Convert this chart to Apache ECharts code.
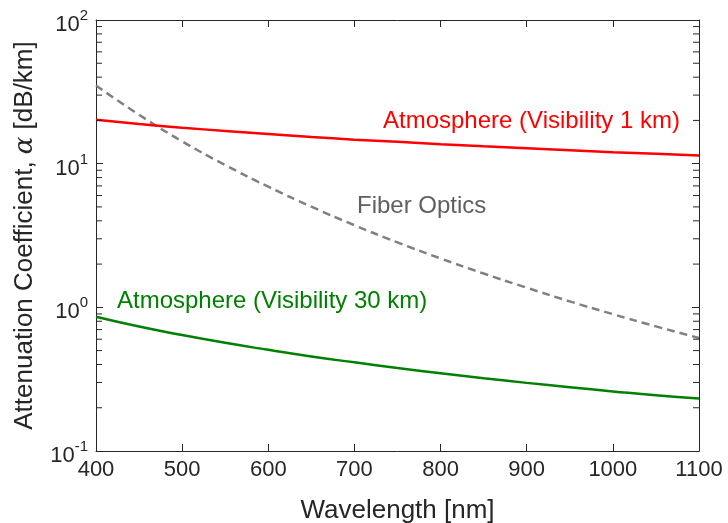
<!DOCTYPE html>
<html>
<head>
<meta charset="utf-8">
<script src="https://cdn.jsdelivr.net/npm/echarts@6/dist/echarts.min.js"></script>
<style>html,body{margin:0;padding:0;background:#fff;}#c{width:728px;height:523px;}</style>
</head>
<body>
<div id="c"></div>
<script>
// Data
var wavelengths = [400, 450, 500, 550, 600, 650, 700, 750, 800, 850, 900, 950, 1000, 1050, 1100];
var atmos1km = [20.2, 18.9, 17.8, 16.9, 16.1, 15.35, 14.7, 14.2, 13.65, 13.2, 12.8, 12.4, 12.0, 11.7, 11.4];
var atmos30km = [0.86, 0.735, 0.641, 0.566, 0.506, 0.455, 0.414, 0.378, 0.348, 0.321, 0.298, 0.278, 0.260, 0.244, 0.232];
var fiberOptics = [35, 21.9, 14.3, 9.79, 6.91, 5.02, 3.73, 2.83, 2.19, 1.72, 1.37, 1.10, 0.896, 0.737, 0.612];
var minorTickValues = [0.2,0.3,0.4,0.5,0.6,0.7,0.8,0.9, 2,3,4,5,6,7,8,9, 20,30,40,50,60,70,80,90];
var labelAtmos1 = 'Atmosphere (Visibility 1 km)';
var labelAtmos30 = 'Atmosphere (Visibility 30 km)';
var labelFiber = 'Fiber Optics';

function pairs(xs, ys) { return xs.map(function (x, i) { return [x, ys[i]]; }); }

var axisColor = '#262626';
var chart = echarts.init(document.getElementById('c'));
var font = 'Liberation Sans, Arial, Helvetica, sans-serif';

var option = {
  backgroundColor: '#fff',
  animation: false,
  textStyle: { fontFamily: font },
  grid: { left: 96, right: 29, top: 20, bottom: 72, containLabel: false, outerBoundsMode: 'none' },
  xAxis: [{
    type: 'value', min: 400, max: 1100, interval: 100, position: 'bottom',
    axisLine: { show: true, onZero: false, lineStyle: { color: axisColor, width: 1 } },
    axisTick: { show: true, inside: true, length: 7, lineStyle: { color: axisColor } },
    axisLabel: { fontSize: 22, color: axisColor, margin: 8, fontFamily: font,
      formatter: function (v) { return String(v); } },
    splitLine: { show: false },
    name: 'Wavelength [nm]', nameLocation: 'middle', nameGap: 47,
    nameTextStyle: { fontSize: 26, color: axisColor, fontFamily: font }
  }, {
    type: 'value', min: 400, max: 1100, interval: 100, position: 'top',
    axisLine: { show: true, onZero: false, lineStyle: { color: axisColor, width: 1 } },
    axisTick: { show: true, inside: true, length: 7, lineStyle: { color: axisColor } },
    axisLabel: { show: false }, splitLine: { show: false }
  }],
  yAxis: [{
    type: 'log', logBase: 10, min: 0.1, max: 100, position: 'left',
    axisLine: { show: true, onZero: false, lineStyle: { color: axisColor, width: 1 } },
    axisTick: { show: true, inside: true, length: 7, lineStyle: { color: axisColor } },
    axisLabel: {
      margin: 8, color: axisColor,
      formatter: function (v) {
        var e = Math.round(Math.log10(v));
        return '{b|10}{s|' + e + '}';
      },
      rich: {
        b: { fontSize: 22, color: axisColor, fontFamily: font, padding: [10, 0, 0, 0] },
        s: { fontSize: 15, color: axisColor, fontFamily: font, padding: [0, 0, 8, 0] }
      }
    },
    splitLine: { show: false },
    name: 'Attenuation Coefficient, {i|α} [dB/km]', nameLocation: 'middle', nameGap: 58, nameRotate: 90,
    nameTextStyle: {
      fontSize: 26, color: axisColor, fontFamily: font,
      rich: { i: { fontSize: 26, fontStyle: 'italic', color: axisColor, fontFamily: 'DejaVu Serif, serif' } }
    }
  }, {
    type: 'log', logBase: 10, min: 0.1, max: 100, position: 'right',
    axisLine: { show: true, onZero: false, lineStyle: { color: axisColor, width: 1 } },
    axisTick: { show: true, inside: true, length: 7, lineStyle: { color: axisColor } },
    axisLabel: { show: false }, splitLine: { show: false }
  }],
  series: [{
    name: labelFiber, type: 'line', data: pairs(wavelengths, fiberOptics), smooth: true,
    showSymbol: false, symbol: 'none', z: 3,
    lineStyle: { color: '#808080', width: 2.5, type: [8, 5] }
  }, {
    name: labelAtmos1, type: 'line', data: pairs(wavelengths, atmos1km), smooth: true,
    showSymbol: false, symbol: 'none', z: 4,
    lineStyle: { color: '#ff0000', width: 2.5 }
  }, {
    name: labelAtmos30, type: 'line', data: pairs(wavelengths, atmos30km), smooth: true,
    showSymbol: false, symbol: 'none', z: 4,
    lineStyle: { color: '#008000', width: 2.5 }
  }, {
    type: 'custom', silent: true, clip: false, z: 5,
    data: minorTickValues.map(function (v) { return [400, v]; }),
    renderItem: function (params, api) {
      var v = api.value(1);
      var pl = api.coord([400, v]);
      var pr = api.coord([1100, v]);
      var st = { stroke: axisColor, lineWidth: 1 };
      return {
        type: 'group',
        children: [
          { type: 'line', shape: { x1: pl[0], y1: pl[1], x2: pl[0] + 6, y2: pl[1] }, style: st },
          { type: 'line', shape: { x1: pr[0], y1: pr[1], x2: pr[0] - 6, y2: pr[1] }, style: st }
        ]
      };
    }
  }],
  graphic: [
    { type: 'text', left: 383, top: 109, style: { text: labelAtmos1, fill: '#ff0000', fontSize: 24, fontFamily: font } },
    { type: 'text', left: 117, top: 289, style: { text: labelAtmos30, fill: '#008000', fontSize: 24, fontFamily: font } },
    { type: 'text', left: 357, top: 194, style: { text: labelFiber, fill: '#606060', fontSize: 24, fontFamily: font } }
  ]
};
chart.setOption(option);
</script>
</body>
</html>
